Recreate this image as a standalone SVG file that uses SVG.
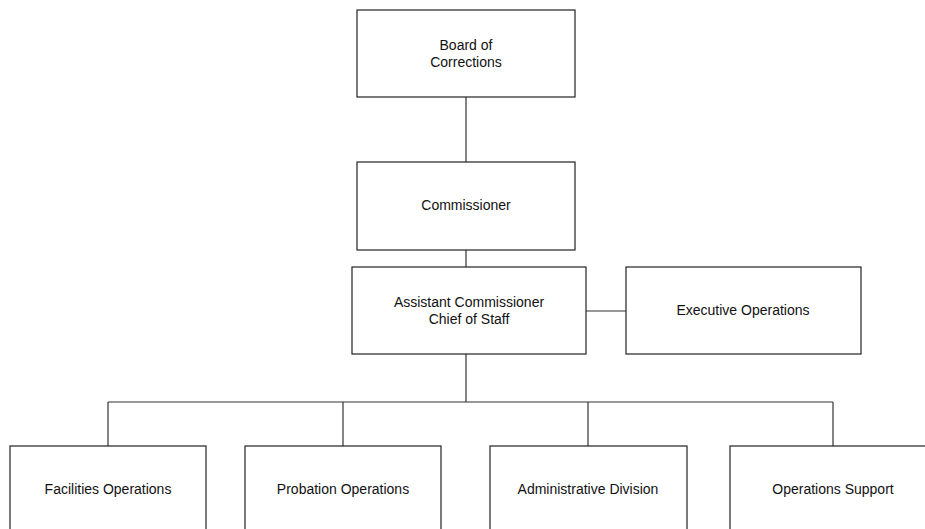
<svg xmlns="http://www.w3.org/2000/svg" width="925" height="529" viewBox="0 0 925 529">
<style>
.box{fill:#fff;stroke:#222;stroke-width:1.2}
.lbl{font-family:"Liberation Sans",Arial,sans-serif;font-size:14px;fill:#111;text-anchor:middle}
.conn{fill:none;stroke:#333;stroke-width:1.2}
</style>
<rect width="925" height="529" fill="#fff"/>
<g id="connectors">
<line class="conn" x1="466" y1="97" x2="466" y2="162"/>
<line class="conn" x1="466" y1="250" x2="466" y2="267"/>
<line class="conn" x1="586" y1="311" x2="626" y2="311" stroke="#666"/>
<line class="conn" x1="466" y1="354" x2="466" y2="402"/>
<line class="conn" x1="108" y1="402" x2="833" y2="402"/>
<line class="conn" x1="108" y1="402" x2="108" y2="446"/>
<line class="conn" x1="343" y1="402" x2="343" y2="446"/>
<line class="conn" x1="588" y1="402" x2="588" y2="446"/>
<line class="conn" x1="833" y1="402" x2="833" y2="446"/>
</g>
<g id="board">
<rect class="box" x="357" y="10" width="218" height="87"/>
<text class="lbl" x="466" y="50">Board of</text>
<text class="lbl" x="466" y="67">Corrections</text>
</g>
<g id="commissioner">
<rect class="box" x="357" y="162" width="218" height="88"/>
<text class="lbl" x="466" y="210">Commissioner</text>
</g>
<g id="assistant">
<rect class="box" x="352" y="267" width="234" height="87"/>
<text class="lbl" x="469" y="307">Assistant Commissioner</text>
<text class="lbl" x="469" y="324">Chief of Staff</text>
</g>
<g id="executive">
<rect class="box" x="626" y="267" width="235" height="87"/>
<text class="lbl" x="743" y="315">Executive Operations</text>
</g>
<g id="facilities">
<rect class="box" x="10" y="446" width="196" height="90"/>
<text class="lbl" x="108" y="494">Facilities Operations</text>
</g>
<g id="probation">
<rect class="box" x="245" y="446" width="196" height="90"/>
<text class="lbl" x="343" y="494">Probation Operations</text>
</g>
<g id="administrative">
<rect class="box" x="490" y="446" width="197" height="90"/>
<text class="lbl" x="588" y="494">Administrative Division</text>
</g>
<g id="opsupport">
<rect class="box" x="730" y="446" width="206" height="90"/>
<text class="lbl" x="833" y="494">Operations Support</text>
</g>
</svg>
